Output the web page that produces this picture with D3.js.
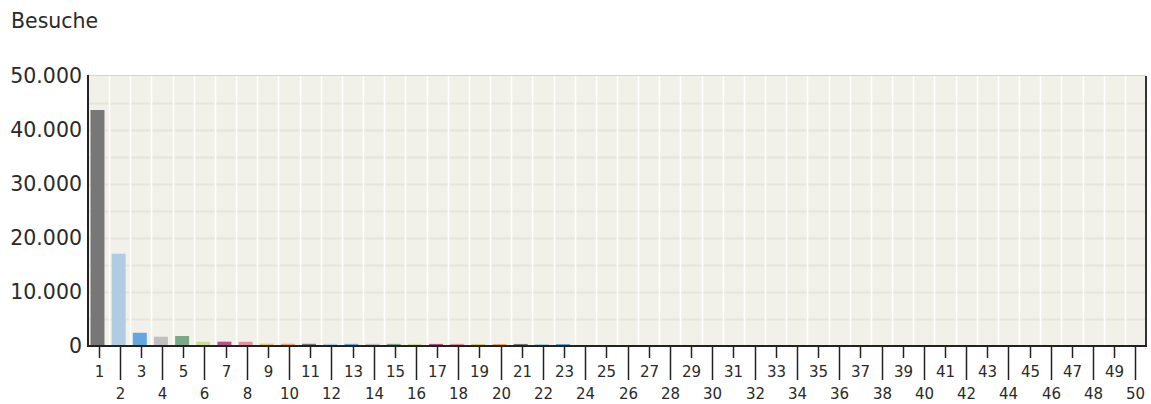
<!DOCTYPE html>
<html>
<head>
<meta charset="utf-8">
<script src="https://cdn.jsdelivr.net/npm/d3@7"></script>
<style>
  body { margin: 0; background: #fff; }
  text { font-family: "DejaVu Sans", Verdana, sans-serif; fill: #2a2a2a; }
</style>
</head>
<body>
<svg id="chart"></svg>
<script>
// categories 1..50 (number of pages / visits bucket)
const categories = [
  1, 2, 3, 4, 5, 6, 7, 8, 9, 10,
  11, 12, 13, 14, 15, 16, 17, 18, 19, 20,
  21, 22, 23, 24, 25, 26, 27, 28, 29, 30,
  31, 32, 33, 34, 35, 36, 37, 38, 39, 40,
  41, 42, 43, 44, 45, 46, 47, 48, 49, 50
];
const visits = [
  43700, 17100, 2450, 1720, 1850, 800, 800, 780, 430, 420,
  410, 400, 400, 400, 400, 390, 390, 390, 380, 380,
  380, 370, 370, 0, 0, 0, 0, 0, 0, 0,
  0, 0, 0, 0, 0, 0, 0, 0, 0, 0,
  0, 0, 0, 0, 0, 0, 0, 0, 0, 0
];
const yTicks = [0, 10000, 20000, 30000, 40000, 50000];
const yGrid = [5000, 10000, 15000, 20000, 25000, 30000, 35000, 40000, 45000];
const palette = ['#777777', '#afcce2', '#62a8dc', '#c0c0c0', '#7aa887',
                 '#cbdf94', '#b4528a', '#e3909a', '#e5cb5a', '#efa75e'];
const title = 'Besuche';

const W = 1151, H = 404;
const margin = { top: 76, right: 5, bottom: 58, left: 88 };
const width = W - margin.left - margin.right;
const height = H - margin.top - margin.bottom;

const de = d3.formatLocale({ decimal: ',', thousands: '.', grouping: [3], currency: ['', ' €'] });
const fmt = de.format(',d');

const svg = d3.select('#chart').attr('width', W).attr('height', H);

svg.append('text')
  .attr('x', 11).attr('y', 28)
  .style('font-size', '20.5px')
  .text(title);

const g = svg.append('g').attr('transform', `translate(${margin.left},${margin.top})`);

const x = d3.scaleBand().domain(categories).range([0, width]);
const y = d3.scaleLinear().domain([0, 50000]).range([height, 0]);

// plot background
g.append('rect')
  .attr('width', width).attr('height', height)
  .attr('fill', '#f2f1e9');

// horizontal grid
g.selectAll('.hgrid')
  .data(yGrid)
  .enter().append('line')
  .attr('x1', 0).attr('x2', width)
  .attr('y1', d => Math.round(y(d)) + 0.5).attr('y2', d => Math.round(y(d)) + 0.5)
  .attr('stroke', '#e6e5dc').attr('stroke-width', 2);

// vertical grid at band edges
g.selectAll('.vgrid')
  .data(categories.slice(1))
  .enter().append('line')
  .attr('x1', d => Math.round(x(d)) + 0.5).attr('x2', d => Math.round(x(d)) + 0.5)
  .attr('y1', 0).attr('y2', height)
  .attr('stroke', '#ffffff').attr('stroke-width', 1.5);

// top border
g.append('line')
  .attr('x1', 0).attr('x2', width).attr('y1', -0.5).attr('y2', -0.5)
  .attr('stroke', '#d6d6cf').attr('stroke-width', 1);

// bars
g.selectAll('.bar')
  .data(categories.map((c, i) => ({ cat: c, value: visits[i], i })))
  .enter().append('rect')
  .attr('x', d => x(d.cat) + 2.5)
  .attr('width', x.bandwidth() * 0.66)
  .attr('y', d => y(d.value))
  .attr('height', d => height - y(d.value))
  .attr('fill', d => palette[d.i % palette.length]);

// right border
g.append('line')
  .attr('x1', width).attr('x2', width).attr('y1', 0).attr('y2', height)
  .attr('stroke', '#333').attr('stroke-width', 2);

// y axis
const yAxis = g.append('g')
  .call(d3.axisLeft(y).tickValues(yTicks).tickFormat(fmt).tickSize(0).tickPadding(6));
yAxis.select('.domain').remove();
yAxis.selectAll('text')
  .style('font-size', '20.5px')
  .attr('font-family', null)
  .attr('fill', '#2a2a2a');

g.append('line')
  .attr('x1', 0).attr('x2', 0).attr('y1', -1).attr('y2', height + 1)
  .attr('stroke', '#222').attr('stroke-width', 2);

// x axis with staggered labels
const xAxis = g.append('g').attr('transform', `translate(0,${height})`);
xAxis.append('line')
  .attr('x1', -1).attr('x2', width + 1).attr('y1', 0).attr('y2', 0)
  .attr('stroke', '#222').attr('stroke-width', 2);

const ticks = xAxis.selectAll('.tick')
  .data(categories)
  .enter().append('g')
  .attr('transform', d => `translate(${Math.round(x(d) + x.bandwidth() / 2) + 0.5},0)`);

ticks.append('line')
  .attr('y1', 0)
  .attr('y2', d => d % 2 ? 12 : 34)
  .attr('stroke', '#222').attr('stroke-width', 1.5);

ticks.append('text')
  .attr('y', d => d % 2 ? 31 : 53)
  .attr('text-anchor', 'middle')
  .style('font-size', '15px')
  .text(d => d);
</script>
</body>
</html>
